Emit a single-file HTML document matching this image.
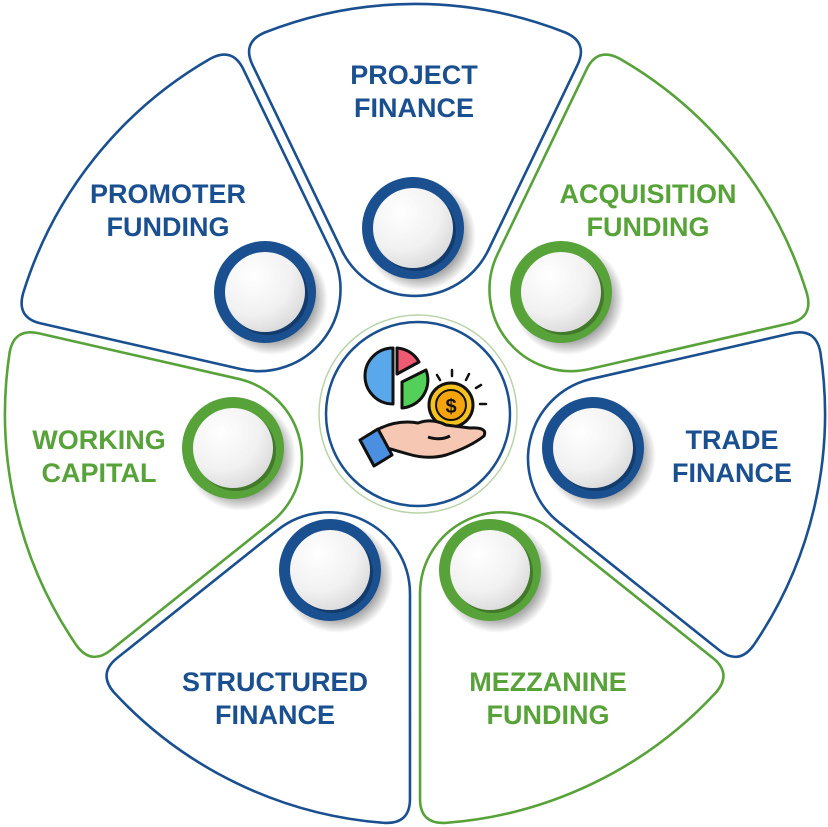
<!DOCTYPE html>
<html><head><meta charset="utf-8">
<style>
html,body{margin:0;padding:0;background:#fff;}
svg{display:block;}
text{font-family:"Liberation Sans",Arial,sans-serif;font-weight:bold;font-size:27px;text-anchor:middle;}
.b{fill:#1a5090;} .g{fill:#58a23a;}
</style></head><body>
<svg width="828" height="827" viewBox="0 0 828 827" xmlns="http://www.w3.org/2000/svg">
<defs>
<path id="w" d="M73.4,-164 L162.5,-349.1 Q173.3,-371.6 150.3,-381.5 A410,410 0 0 0 -150.3,-381.5 Q-173.3,-371.6 -162.5,-349.1 L-73.4,-164 A81.6,81.6 0 0 0 73.4,-164 Z" fill="#fff" stroke-width="2.6"/>
<radialGradient id="disk" cx="0.35" cy="0.3" r="0.8">
<stop offset="0" stop-color="#ffffff"/><stop offset="0.6" stop-color="#f1f1f1"/><stop offset="1" stop-color="#d6d6d6"/>
</radialGradient>
<radialGradient id="sh" cx="0.5" cy="0.5" r="0.5">
<stop offset="0.75" stop-color="#000" stop-opacity="0.35"/><stop offset="1" stop-color="#000" stop-opacity="0"/>
</radialGradient>
<g id="nodeB"><circle cx="7" cy="7" r="56" fill="url(#sh)"/><circle r="51" fill="#1a5090"/><circle cx="3" cy="3" r="40" fill="#000" opacity="0.25"/><circle r="40" fill="url(#disk)"/></g>
<g id="nodeG"><circle cx="7" cy="7" r="56" fill="url(#sh)"/><circle r="51" fill="#58a23a"/><circle cx="3" cy="3" r="40" fill="#000" opacity="0.25"/><circle r="40" fill="url(#disk)"/></g>
</defs>
<g transform="translate(415,414)">
<use href="#w" stroke="#1a5090" transform="rotate(0)"/>
<use href="#w" stroke="#58a23a" transform="rotate(51.43)"/>
<use href="#w" stroke="#1a5090" transform="rotate(102.86)"/>
<use href="#w" stroke="#58a23a" transform="rotate(154.29)"/>
<use href="#w" stroke="#1a5090" transform="rotate(205.71)"/>
<use href="#w" stroke="#58a23a" transform="rotate(257.14)"/>
<use href="#w" stroke="#1a5090" transform="rotate(308.57)"/>
</g>
<use href="#nodeB" x="413" y="228"/>
<use href="#nodeG" x="561" y="292"/>
<use href="#nodeB" x="593" y="448"/>
<use href="#nodeG" x="490" y="570"/>
<use href="#nodeB" x="330" y="570"/>
<use href="#nodeG" x="233" y="448"/>
<use href="#nodeB" x="265" y="292"/>

<text class="b" x="414" y="84">PROJECT</text><text class="b" x="414" y="117">FINANCE</text>
<text class="g" x="648" y="203">ACQUISITION</text><text class="g" x="648" y="236">FUNDING</text>
<text class="b" x="732" y="449">TRADE</text><text class="b" x="732" y="482">FINANCE</text>
<text class="g" x="548" y="691">MEZZANINE</text><text class="g" x="548" y="724">FUNDING</text>
<text class="b" x="275" y="691">STRUCTURED</text><text class="b" x="275" y="724">FINANCE</text>
<text class="g" x="99" y="449">WORKING</text><text class="g" x="99" y="482">CAPITAL</text>
<text class="b" x="168" y="203">PROMOTER</text><text class="b" x="168" y="236">FUNDING</text>

<!-- center -->
<circle cx="418" cy="414" r="99" fill="#fff" stroke="#b9d3a8" stroke-width="1.5"/>
<circle cx="418" cy="414" r="92" fill="#fff" stroke="#1a5090" stroke-width="2.5"/>
<g stroke="#111" stroke-width="3" stroke-linejoin="round">
<path d="M393,348 A28,28 0 0 0 393,404 Z" fill="#5aa8ec"/>
<path d="M397,348 L397,374 L419,362 A27,27 0 0 0 397,348 Z" fill="#ef5a72"/>
<path d="M402,382 L426,370 A28,28 0 0 1 402,408 Z" fill="#52d05a"/>
<circle cx="451" cy="405" r="22" fill="#f8c21c"/>
<circle cx="451" cy="405" r="15" fill="#f5a40e" stroke-width="2"/>
<path d="M418,423 Q432,418 446,425 L470,428 Q488,427 484,436 Q470,447 446,455 Q428,460 408,454 L387,448 L373,432 Q395,419 418,423 Z" fill="#f6c8b4"/>
<path d="M428,437 Q440,441 450,436" fill="none"/>
<path d="M360,440 L378,429 L392,455 L374,466 Z" fill="#4b8fe0"/>
</g>
<text x="451" y="413" style="font-size:20px;fill:#111;">$</text>
<g stroke="#111" stroke-width="2.5" stroke-linecap="round">
<line x1="452" y1="370" x2="452" y2="376"/><line x1="469" y1="374" x2="466" y2="380"/><line x1="437" y1="375" x2="440" y2="380"/><line x1="481" y1="385" x2="476" y2="388"/><line x1="486" y1="404" x2="480" y2="404"/>
</g>
</svg>
</body></html>
